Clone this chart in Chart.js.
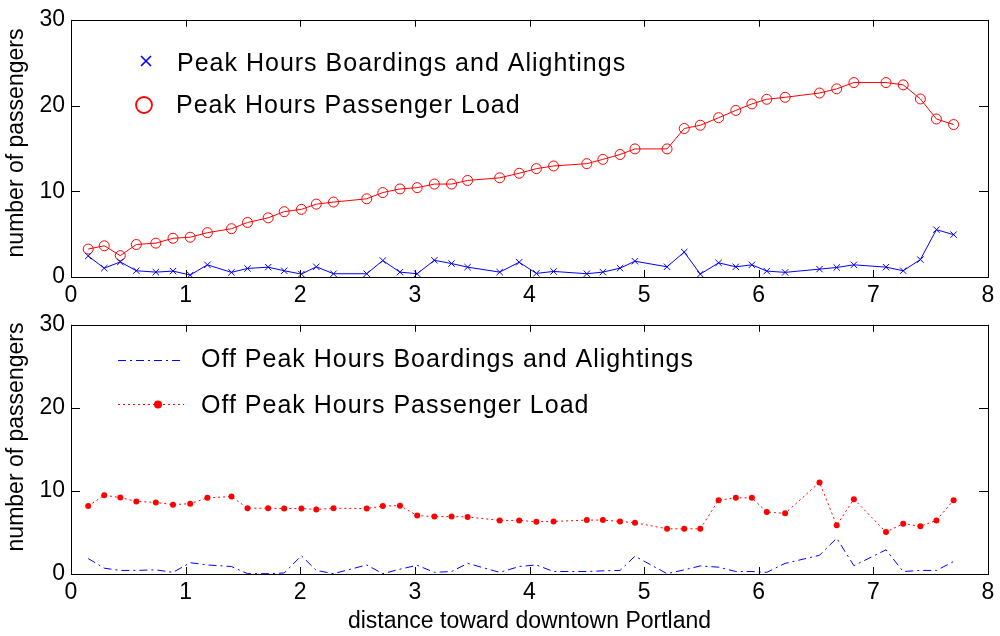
<!DOCTYPE html>
<html>
<head>
<meta charset="utf-8">
<title>Passengers along the line</title>
<script src="https://cdn.jsdelivr.net/npm/chart.js@4.4.1/dist/chart.umd.min.js"></script>
<style>
  html, body { margin: 0; padding: 0; background: #fff; }
  #wrap { position: relative; width: 1000px; height: 636px; overflow: hidden; }
  canvas { position: absolute; left: 0; display: block; }
  #peak { top: 0; }
  #offpeak { top: 305px; }
</style>
</head>
<body>
<div id="wrap">
  <canvas id="peak" width="1000" height="305"></canvas>
  <canvas id="offpeak" width="1000" height="331"></canvas>
</div>
<script>
// Stop positions (miles toward downtown Portland)
const distance = [
  0.15, 0.29, 0.43, 0.57, 0.74, 0.89, 1.04, 1.19, 1.40, 1.54,
  1.72, 1.86, 2.01, 2.14, 2.29, 2.58, 2.72, 2.87, 3.02, 3.17,
  3.32, 3.46, 3.74, 3.91, 4.06, 4.21, 4.50, 4.64, 4.79, 4.92,
  5.20, 5.35, 5.49, 5.65, 5.80, 5.94, 6.07, 6.23, 6.53, 6.68,
  6.83, 7.11, 7.26, 7.41, 7.55, 7.70
];

// Peak hours
const peakBoardAlight = [
  2.45, 1.03, 1.76, 0.73, 0.57, 0.69, 0.23, 1.42, 0.54, 1.00,
  1.15, 0.73, 0.34, 1.19, 0.38, 0.38, 1.92, 0.57, 0.38, 1.95,
  1.57, 1.15, 0.57, 1.72, 0.42, 0.65, 0.38, 0.57, 1.03, 1.84,
  1.19, 2.91, 0.34, 1.65, 1.19, 1.42, 0.69, 0.54, 0.92, 1.11,
  1.42, 1.15, 0.73, 2.03, 5.52, 4.94
];
const peakLoad = [
  3.26, 3.64, 2.49, 3.79, 3.95, 4.52, 4.64, 5.17, 5.63, 6.36,
  6.90, 7.62, 7.89, 8.50, 8.74, 9.12, 9.85, 10.27, 10.42, 10.84,
  10.84, 11.26, 11.57, 12.10, 12.64, 12.95, 13.22, 13.72, 14.29, 14.94,
  14.94, 17.32, 17.70, 18.58, 19.43, 20.19, 20.73, 20.96, 21.46, 21.95,
  22.68, 22.68, 22.41, 20.77, 18.43, 17.78
];

// Off peak hours
const offPeakBoardAlight = [
  1.86, 0.70, 0.43, 0.43, 0.50, 0.20, 1.36, 1.09, 0.90, 0.04,
  0.04, 0.12, 2.20, 0.43, 0.04, 1.09, 0.04, 0.58, 1.05, 0.20,
  0.30, 1.28, 0.20, 0.90, 1.09, 0.30, 0.30, 0.38, 0.43, 2.14,
  0.04, 0.50, 0.97, 0.82, 0.30, 0.30, 0.20, 1.28, 2.25, 4.31,
  1.00, 2.91, 0.30, 0.43, 0.43, 1.50
];
const offPeakLoad = [
  8.19, 9.48, 9.20, 8.74, 8.62, 8.35, 8.47, 9.17, 9.32, 7.92,
  7.92, 7.88, 7.88, 7.77, 7.92, 7.88, 8.19, 8.23, 7.03, 6.91,
  6.91, 6.87, 6.45, 6.45, 6.29, 6.33, 6.49, 6.49, 6.33, 6.17,
  5.44, 5.44, 5.44, 8.89, 9.17, 9.17, 7.46, 7.30, 11.03, 5.86,
  9.01, 5.05, 6.06, 5.75, 6.45, 8.89
];

// Axis ticks
const xTicks = [0, 1, 2, 3, 4, 5, 6, 7, 8];
const yTicks = [0, 10, 20, 30];

const FONT = "'Liberation Sans', Arial, Helvetica, sans-serif";
const BLUE = '#0000ff';
const RED = '#ff0000';
const Y_TITLE = 'number of passengers';

const points = ys => distance.map((x, i) => ({ x, y: ys[i] }));

// Boxed axes with inward tick marks on all four sides
const boxAxes = {
  id: 'boxAxes',
  afterDatasetsDraw(chart) {
    const { ctx, chartArea: a, scales } = chart;
    ctx.save();
    ctx.strokeStyle = '#000';
    ctx.lineWidth = 1;
    ctx.beginPath();
    xTicks.forEach(v => {
      const px = Math.round(scales.x.getPixelForValue(v)) + 0.5;
      ctx.moveTo(px, a.bottom); ctx.lineTo(px, a.bottom - 7);
      ctx.moveTo(px, a.top); ctx.lineTo(px, a.top + 7);
    });
    yTicks.forEach(v => {
      const py = Math.round(scales.y.getPixelForValue(v)) + 0.5;
      ctx.moveTo(a.left, py); ctx.lineTo(a.left + 9, py);
      ctx.moveTo(a.right, py); ctx.lineTo(a.right - 9, py);
    });
    ctx.stroke();
    ctx.strokeRect(Math.round(a.left) + 0.5, Math.round(a.top) + 0.5,
                   Math.round(a.right - a.left), Math.round(a.bottom - a.top));
    ctx.restore();
  }
};

// Rotated y-axis title, sitting a little above the middle of the axis
function yTitle(ctx, cx, cy) {
  ctx.save();
  ctx.translate(cx, cy);
  ctx.rotate(-Math.PI / 2);
  ctx.fillStyle = '#000';
  ctx.font = '23px ' + FONT;
  ctx.textAlign = 'center';
  ctx.textBaseline = 'middle';
  ctx.fillText(Y_TITLE, 0, 0);
  ctx.restore();
}

function legendText(ctx, text, x, y) {
  ctx.save();
  ctx.fillStyle = '#000';
  ctx.font = '25px ' + FONT;
  ctx.textAlign = 'left';
  ctx.textBaseline = 'alphabetic';
  try { ctx.letterSpacing = '1px'; } catch (e) {}
  ctx.fillText(text, x, y);
  ctx.restore();
}

const peakLegend = {
  id: 'peakLegend',
  afterDraw(chart) {
    const ctx = chart.ctx;
    ctx.save();
    // cross marker
    ctx.strokeStyle = BLUE;
    ctx.lineWidth = 1.6;
    ctx.beginPath();
    ctx.moveTo(141, 56); ctx.lineTo(151, 66);
    ctx.moveTo(151, 56); ctx.lineTo(141, 66);
    ctx.stroke();
    // circle marker
    ctx.strokeStyle = RED;
    ctx.lineWidth = 1.8;
    ctx.beginPath();
    ctx.arc(144, 105, 8, 0, Math.PI * 2);
    ctx.stroke();
    ctx.restore();
    legendText(ctx, 'Peak Hours Boardings and Alightings', 177, 71);
    legendText(ctx, 'Peak Hours Passenger Load', 176, 113);
    yTitle(ctx, 17, 143);
  }
};

const offPeakLegend = {
  id: 'offPeakLegend',
  afterDraw(chart) {
    const ctx = chart.ctx;
    ctx.save();
    ctx.lineWidth = 1;
    ctx.strokeStyle = BLUE;
    ctx.setLineDash([8, 4, 2, 4]);
    ctx.beginPath();
    ctx.moveTo(118, 55.5); ctx.lineTo(184, 55.5);
    ctx.stroke();
    ctx.strokeStyle = RED;
    ctx.setLineDash([2, 3]);
    ctx.beginPath();
    ctx.moveTo(118, 99.5); ctx.lineTo(184, 99.5);
    ctx.stroke();
    ctx.setLineDash([]);
    ctx.fillStyle = RED;
    ctx.beginPath();
    ctx.arc(158, 99.5, 4, 0, Math.PI * 2);
    ctx.fill();
    ctx.restore();
    legendText(ctx, 'Off Peak Hours Boardings and Alightings', 201, 62);
    legendText(ctx, 'Off Peak Hours Passenger Load', 201, 108);
    yTitle(ctx, 17, 132);
  }
};

function axes(xHeight, xTitle) {
  const tickFont = { family: FONT, size: 23 };
  return {
    x: {
      type: 'linear', min: 0, max: 8,
      ticks: { stepSize: 1, padding: 5, color: '#000', font: tickFont, maxRotation: 0, autoSkip: false },
      grid: { display: false, drawTicks: false },
      border: { display: false },
      title: xTitle
        ? { display: true, text: xTitle, color: '#000', font: tickFont, padding: { top: 0, bottom: 1 } }
        : { display: false },
      afterFit(s) { s.height = xHeight; }
    },
    y: {
      type: 'linear', min: 0, max: 30,
      ticks: { stepSize: 10, padding: 6, color: '#000', font: tickFont },
      grid: { display: false, drawTicks: false },
      border: { display: false },
      title: { display: false },
      afterFit(s) { s.width = 71; }
    }
  };
}

const common = {
  responsive: false,
  animation: false,
  events: [],
  plugins: { legend: { display: false }, tooltip: { enabled: false } }
};

new Chart(document.getElementById('peak'), {
  type: 'line',
  data: {
    datasets: [
      {
        label: 'Peak Hours Boardings and Alightings',
        data: points(peakBoardAlight),
        borderColor: BLUE, borderWidth: 1, tension: 0, fill: false,
        pointStyle: 'crossRot', pointRadius: 4.5, pointBorderColor: BLUE, pointBorderWidth: 1
      },
      {
        label: 'Peak Hours Passenger Load',
        data: points(peakLoad),
        borderColor: RED, borderWidth: 1, tension: 0, fill: false,
        pointStyle: 'circle', pointRadius: 5, pointBorderColor: RED,
        pointBackgroundColor: 'rgba(0,0,0,0)', pointBorderWidth: 1
      }
    ]
  },
  options: Object.assign({}, common, {
    layout: { padding: { left: 0, right: 12, top: 18, bottom: 0 } },
    scales: axes(28, null)
  }),
  plugins: [boxAxes, peakLegend]
});

new Chart(document.getElementById('offpeak'), {
  type: 'line',
  data: {
    datasets: [
      {
        label: 'Off Peak Hours Boardings and Alightings',
        data: points(offPeakBoardAlight),
        borderColor: BLUE, borderWidth: 1, tension: 0, fill: false,
        borderDash: [8, 4, 2, 4], pointRadius: 0
      },
      {
        label: 'Off Peak Hours Passenger Load',
        data: points(offPeakLoad),
        borderColor: RED, borderWidth: 1, tension: 0, fill: false,
        borderDash: [2, 3], pointStyle: 'circle', pointRadius: 3,
        pointBackgroundColor: RED, pointBorderColor: RED, pointBorderWidth: 0
      }
    ]
  },
  options: Object.assign({}, common, {
    layout: { padding: { left: 0, right: 12, top: 14, bottom: 0 } },
    scales: axes(62, 'distance toward downtown Portland')
  }),
  plugins: [boxAxes, offPeakLegend]
});
</script>
</body>
</html>
